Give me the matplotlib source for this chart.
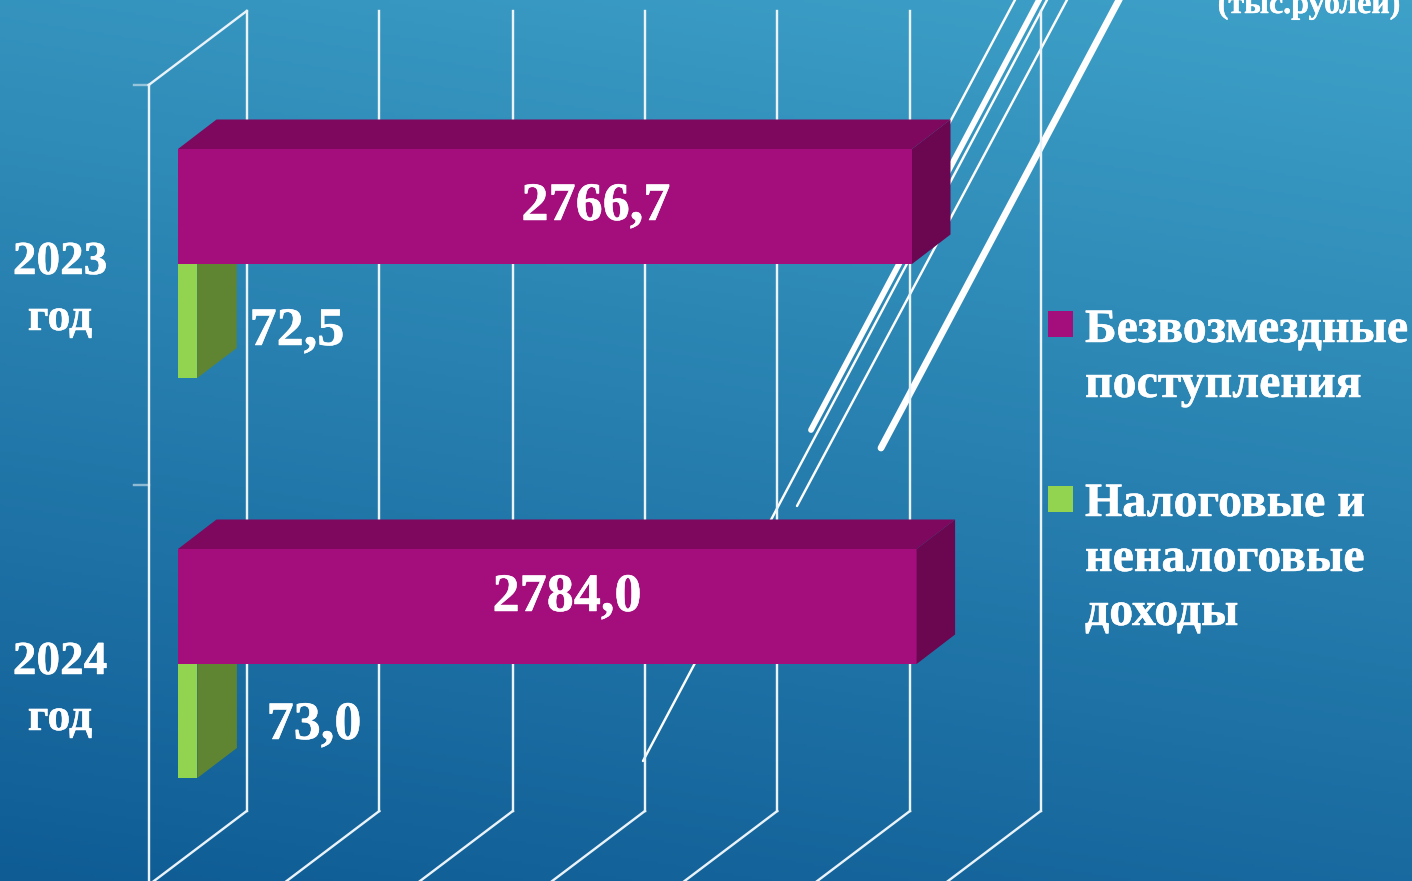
#!/usr/bin/env python3

import numpy as np
import matplotlib
matplotlib.use("Agg")
import matplotlib.pyplot as plt
import matplotlib.patheffects as pe
from matplotlib.colors import LinearSegmentedColormap
from matplotlib.patches import Polygon, Rectangle

# chart data
years = ["2023", "2024"]
grants = [2766.7, 2784.0]
taxes = [72.5, 73.0]
grants_labels = ["2766,7", "2784,0"]
taxes_labels = ["72,5", "73,0"]
grid_values = [0, 500, 1003, 1501, 2000, 2500, 2993]

# stray white strokes on the slide (x0, y0, x1, y1, width px), in pixels
strokes = [
    (881, 448, 1120, -2, 6.8),
    (811, 430, 1040, -2, 5.8),
    (643, 761, 1048, -2, 2.4),
    (797, 506, 1068, -2, 2.4),
    (900, 216, 1016, -2, 2.4),
]

W, H = 1412, 881
X_SCALE = 0.2653  # px per unit
Y_SCALE = 400.0   # px per category
X0_PX, Y0_PX = 178.0, 264.0

PURPLE, PURPLE_TOP, PURPLE_SIDE = "#A30D7C", "#7E085D", "#6B0751"
GREEN, GREEN_SIDE = "#92D350", "#5F8533"
LINE = "#EAF3F8"


def dx(px):
    return px / X_SCALE


def dy(px):
    return px / Y_SCALE


def draw_box(ax, y, val, height, front, top, side, bar_dx, bar_dy):
    """Bar with fake 3D top and side, y is the upper edge"""
    ax.barh(y, val, height=height, align="edge", color=front, zorder=5)
    ax.add_patch(Polygon([(0, y), (bar_dx, y - bar_dy), (val + bar_dx, y - bar_dy), (val, y)],
                         closed=True, color=top, lw=0, zorder=5))
    ax.add_patch(Polygon([(val, y), (val + bar_dx, y - bar_dy),
                          (val + bar_dx, y + height - bar_dy), (val, y + height)],
                         closed=True, color=side, lw=0, zorder=5))


fig = plt.figure(figsize=(W / 100, H / 100), dpi=100)

# background and everything placed by pixel
bg = fig.add_axes([0, 0, 1, 1])
bg.set_xlim(0, W)
bg.set_ylim(H, 0)
bg.axis("off")
cmap = LinearSegmentedColormap.from_list("slide", ["#0F5C95", "#3EA1C8"])
xx, yy = np.meshgrid(np.linspace(0, 1, 300), np.linspace(0, 1, 300))
bg.imshow(0.20 * xx + 0.80 * (1 - yy), cmap=cmap, extent=(0, W, H, 0), aspect="auto", vmin=0, vmax=1)

for x0, y0, x1, y1, lw in strokes:
    bg.plot([x0, x1], [y0, y1], color="white", lw=lw * 0.72, solid_capstyle="round", zorder=2)

# value axes on top of it
ax = fig.add_axes([0, 0, 1, 1])
ax.patch.set_alpha(0)
ax.axis("off")
ax.set_xlim(-X0_PX / X_SCALE, (W - X0_PX) / X_SCALE)
ax.set_ylim((H - Y0_PX) / Y_SCALE, -Y0_PX / Y_SCALE)

# walls
back_x = dx(246.7 - X0_PX)
front_x = dx(148.7 - X0_PX)
wall_top = dy(11 - Y0_PX)
wall_bottom = dy(811 - Y0_PX)
front_top = dy(85 - Y0_PX)
front_bottom = dy(885 - Y0_PX)
wall_dx = back_x - front_x
line_w = 2.4 * 0.72

for v in grid_values:
    ax.plot([back_x + v, back_x + v], [wall_top, wall_bottom], color=LINE, lw=line_w, zorder=3)
    ax.plot([back_x + v, back_x + v - wall_dx], [wall_bottom, front_bottom], color=LINE, lw=line_w, zorder=3)
ax.plot([front_x, front_x], [front_top, front_bottom], color=LINE, lw=line_w, zorder=3)
ax.plot([front_x, back_x], [front_top, wall_top], color=LINE, lw=line_w, zorder=3)
for y_tick in [front_top, front_top + 1]:
    ax.plot([front_x - dx(15), front_x], [y_tick, y_tick], color=LINE, lw=line_w, alpha=0.55, zorder=3)

# bars
bar_h = dy(115)
for i in range(len(years)):
    draw_box(ax, i, taxes[i], bar_h - dy(1), GREEN, GREEN, GREEN_SIDE, dx(39.5), dy(30))
    draw_box(ax, i - bar_h, grants[i], bar_h, PURPLE, PURPLE_TOP, PURPLE_SIDE, dx(38.5), dy(29.5))

# legend swatches
ax.add_patch(Rectangle((dx(1048 - X0_PX), dy(311 - Y0_PX)), dx(25), dy(26), color=PURPLE, lw=0))
ax.add_patch(Rectangle((dx(1048 - X0_PX), dy(486 - Y0_PX)), dx(25), dy(26), color=GREEN, lw=0))

# all the text, by pixel, over the value axes
px = bg.transData
serif = "Liberation Serif"
thick = [pe.withStroke(linewidth=0.35, foreground="white")]


def put(x, y, s, size, ha="center"):
    fig.text(x, y, s, transform=px, color="white", family=serif, weight="bold", fontsize=size,
             ha=ha, va="baseline", path_effects=thick, zorder=10)


val_pos = [(596, 220), (567, 611)]
tax_pos = [(297, 345), (314, 739)]
for i in range(len(years)):
    put(val_pos[i][0], val_pos[i][1], grants_labels[i], 39)
    put(tax_pos[i][0], tax_pos[i][1], taxes_labels[i], 39)
    put(60, 274 + 400 * i, years[i], 34)
    put(60, 330 + 400 * i, "год", 33)

legend_rows = [("Безвозмездные", 342), ("поступления", 397), ("Налоговые и", 516),
               ("неналоговые", 571), ("доходы", 625)]
for text, y in legend_rows:
    put(1085, y, text, 34.5, ha="left")

put(1401, 13, "(тыс.рублей)", 23, ha="right")

fig.savefig("out.png", dpi=100)
